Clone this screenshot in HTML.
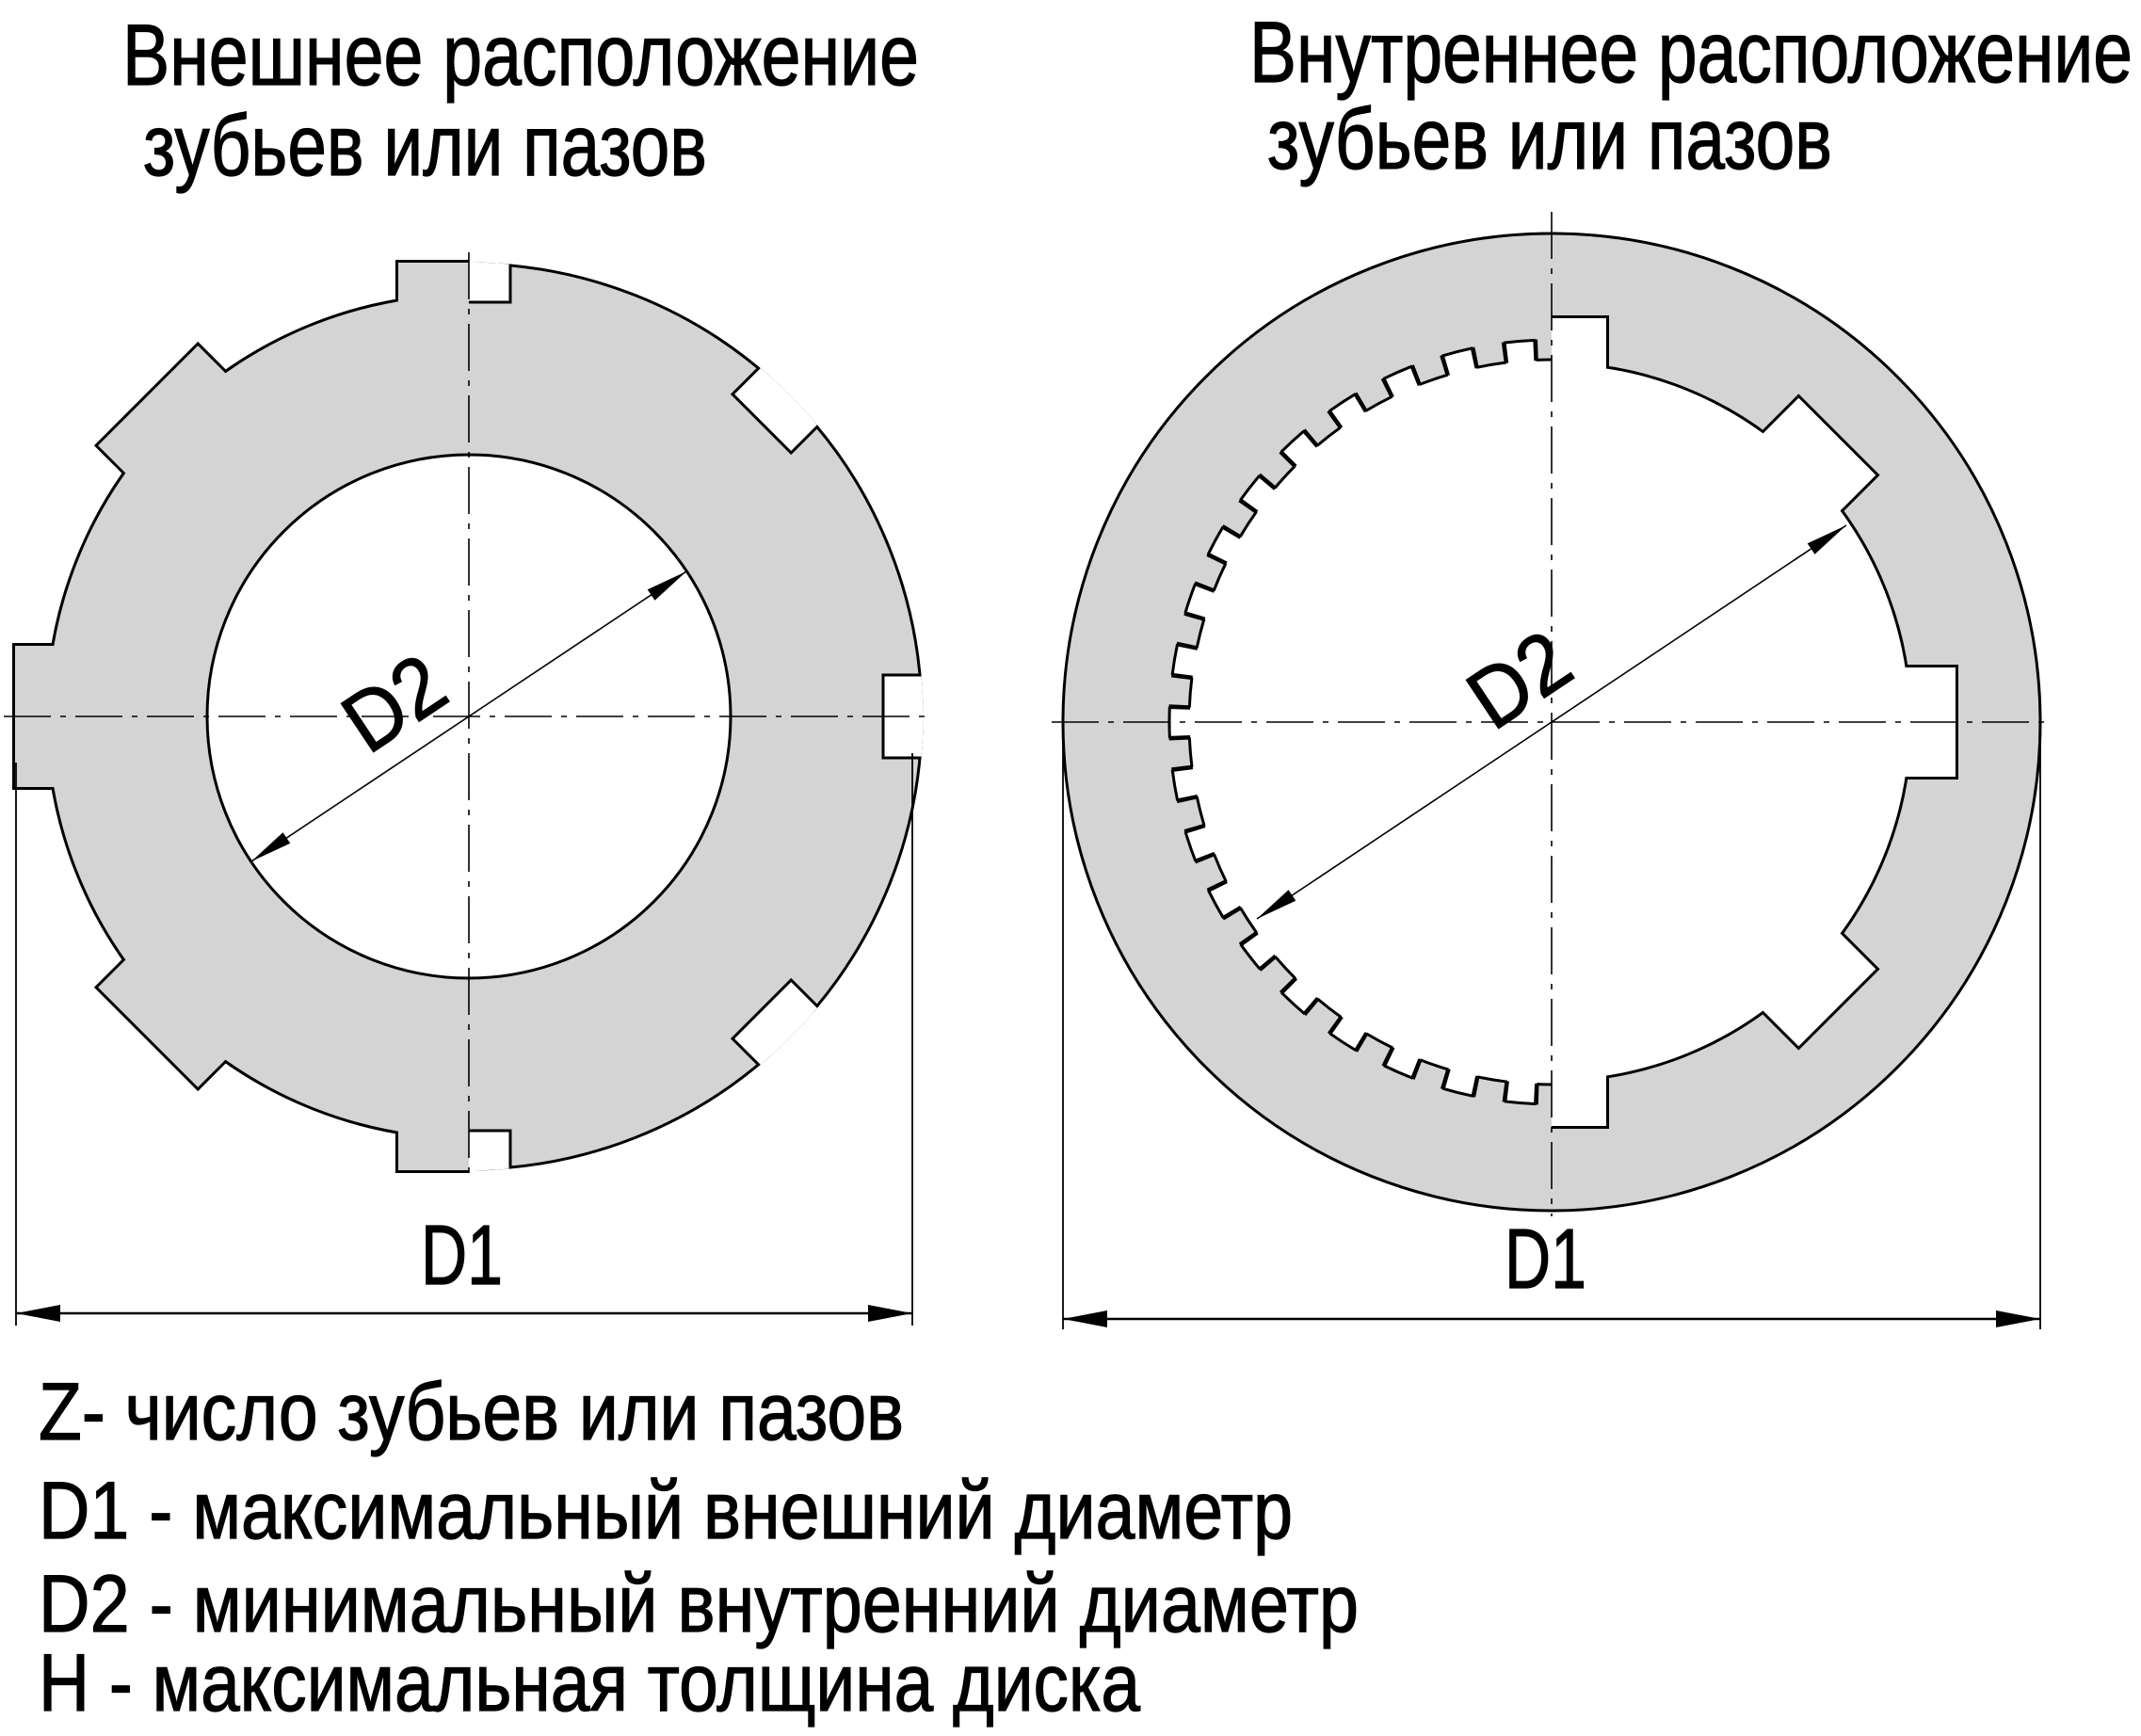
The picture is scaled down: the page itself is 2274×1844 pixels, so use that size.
<!DOCTYPE html>
<html><head><meta charset="utf-8"><style>html,body{margin:0;padding:0;background:#fff}svg{display:block}</style></head>
<body>
<svg xmlns="http://www.w3.org/2000/svg" width="2274" height="1844" viewBox="0 0 2274 1844">
<defs>
<clipPath id="cl"><rect x="-700" y="-700" width="700" height="1400"/></clipPath>
<clipPath id="cr"><rect x="0" y="-700" width="700" height="1400"/></clipPath>
<clipPath id="cc"><circle r="482.5"/></clipPath>
</defs>
<g font-family="Liberation Sans, Arial, sans-serif" fill="#000" stroke="#000" stroke-width="1.2">
<text x="130" y="90" font-size="92" textLength="846" lengthAdjust="spacingAndGlyphs">Внешнее расположение</text>
<text x="152" y="186" font-size="92" textLength="599" lengthAdjust="spacingAndGlyphs">зубьев или пазов</text>
<text x="1327" y="87" font-size="92" textLength="938" lengthAdjust="spacingAndGlyphs">Внутреннее расположение</text>
<text x="1346" y="179" font-size="92" textLength="600" lengthAdjust="spacingAndGlyphs">зубьев или пазов</text>
<text x="41" y="1529" font-size="86" textLength="919" lengthAdjust="spacingAndGlyphs">Z- число зубьев или пазов</text>
<text x="41" y="1634" font-size="86" textLength="1332" lengthAdjust="spacingAndGlyphs">D1 - максимальный внешний диаметр</text>
<text x="41" y="1733" font-size="86" textLength="1402" lengthAdjust="spacingAndGlyphs">D2 - минимальный внутренний диаметр</text>
<text x="41" y="1817" font-size="86" textLength="1170" lengthAdjust="spacingAndGlyphs">H - максимальная толщина диска</text>
<text x="447" y="1364" font-size="90" textLength="87" lengthAdjust="spacingAndGlyphs">D1</text>
<text x="1598" y="1368" font-size="90" textLength="87" lengthAdjust="spacingAndGlyphs">D1</text>
</g>

<!-- LEFT DISK -->
<g transform="translate(498,761)">
  <g clip-path="url(#cl)">
    <g fill="none" stroke="#000" stroke-width="6">
      <circle r="447"/>
      <rect x="-75" y="-482" width="150" height="100"/>
      <rect x="-75" y="-482" width="150" height="100" transform="rotate(-45)"/>
      <rect x="-75" y="-482" width="150" height="100" transform="rotate(-90)"/>
      <rect x="-75" y="-482" width="150" height="100" transform="rotate(-135)"/>
      <rect x="-75" y="-482" width="150" height="100" transform="rotate(180)"/>
    </g>
    <g fill="#d4d4d4">
      <circle r="447"/>
      <rect x="-75" y="-482" width="150" height="100"/>
      <rect x="-75" y="-482" width="150" height="100" transform="rotate(-45)"/>
      <rect x="-75" y="-482" width="150" height="100" transform="rotate(-90)"/>
      <rect x="-75" y="-482" width="150" height="100" transform="rotate(-135)"/>
      <rect x="-75" y="-482" width="150" height="100" transform="rotate(180)"/>
    </g>
  </g>
  <g clip-path="url(#cr)">
    <circle r="481" fill="#d4d4d4" stroke="#000" stroke-width="3"/>
    <g clip-path="url(#cc)" fill="#fff" stroke="#000" stroke-width="3">
      <rect x="-44" y="-530" width="88" height="90"/>
      <rect x="-44" y="-530" width="88" height="90" transform="rotate(45)"/>
      <rect x="-44" y="-530" width="88" height="90" transform="rotate(90)"/>
      <rect x="-44" y="-530" width="88" height="90" transform="rotate(135)"/>
      <rect x="-44" y="-530" width="88" height="90" transform="rotate(180)"/>
    </g>
  </g>
  <circle r="278" fill="#fff" stroke="#000" stroke-width="3"/>
</g>

<!-- RIGHT DISK -->
<g transform="translate(1648,767)">
  <circle r="519" fill="#d4d4d4" stroke="#000" stroke-width="3"/>
  <g clip-path="url(#cr)">
    <g fill="none" stroke="#000" stroke-width="6">
      <circle r="380"/>
      <rect x="-58" y="-429" width="116" height="100"/>
      <rect x="-58" y="-429" width="116" height="100" transform="rotate(45)"/>
      <rect x="-58" y="-429" width="116" height="100" transform="rotate(90)"/>
      <rect x="-58" y="-429" width="116" height="100" transform="rotate(135)"/>
      <rect x="-58" y="-429" width="116" height="100" transform="rotate(180)"/>
    </g>
    <g fill="#fff">
      <circle r="380"/>
      <rect x="-58" y="-429" width="116" height="100"/>
      <rect x="-58" y="-429" width="116" height="100" transform="rotate(45)"/>
      <rect x="-58" y="-429" width="116" height="100" transform="rotate(90)"/>
      <rect x="-58" y="-429" width="116" height="100" transform="rotate(135)"/>
      <rect x="-58" y="-429" width="116" height="100" transform="rotate(180)"/>
    </g>
  </g>
  <g clip-path="url(#cl)">
    <circle r="406" fill="#fff"/>
    <circle r="395.5" fill="none" stroke="#d4d4d4" stroke-width="21.5" pathLength="38" stroke-dasharray="0.5 0.5" stroke-dashoffset="-0.25"/>
    <circle r="385" fill="none" stroke="#000" stroke-width="3" pathLength="38" stroke-dasharray="0.5 0.5" stroke-dashoffset="-0.25"/>
    <circle r="406" fill="none" stroke="#000" stroke-width="3" pathLength="38" stroke-dasharray="0.5 0.5" stroke-dashoffset="0.25"/>
    <circle r="395.5" fill="none" stroke="#000" stroke-width="22.5" pathLength="38" stroke-dasharray="0.07 0.43" stroke-dashoffset="-0.215"/>
  </g>
</g>

<!-- centerlines -->
<g stroke="#000" stroke-width="1.6" stroke-dasharray="50 10 6 10" fill="none">
  <line x1="4" y1="761" x2="986" y2="761"/>
  <line x1="498" y1="268" x2="498" y2="1250"/>
  <line x1="1117" y1="767" x2="2180" y2="767"/>
  <line x1="1648" y1="225" x2="1648" y2="1292"/>
</g>

<!-- extension + dimension lines -->
<g stroke="#000" stroke-width="1.8" fill="none">
  <line x1="17" y1="810" x2="17" y2="1408"/>
  <line x1="969" y1="800" x2="969" y2="1408"/>
  <line x1="1129" y1="775" x2="1129" y2="1412"/>
  <line x1="2167" y1="775" x2="2167" y2="1412"/>
  <line x1="17" y1="1395" x2="969" y2="1395" stroke-width="2.5"/>
  <line x1="1129" y1="1401" x2="2167" y2="1401" stroke-width="2.5"/>
  <line x1="267" y1="915" x2="729" y2="607" stroke-width="1.6"/>
  <line x1="1335" y1="976" x2="1961" y2="558" stroke-width="1.6"/>
</g>
<g fill="#000">
  <polygon points="17,1395 64,1386 64,1404"/>
  <polygon points="969,1395 922,1386 922,1404"/>
  <polygon points="1129,1401 1176,1392 1176,1410"/>
  <polygon points="2167,1401 2120,1392 2120,1410"/>
  <polygon points="729,607 695.5,637.8 687.7,626.2"/>
  <polygon points="267,915 308.3,895.8 300.5,884.2"/>
  <polygon points="1961,558 1927.5,588.8 1919.7,577.2"/>
  <polygon points="1335,976 1376.3,956.8 1368.5,945.2"/>
</g>
<g font-family="Liberation Sans, Arial, sans-serif" fill="#000" stroke="#000" stroke-width="1.2" font-size="90" text-anchor="middle">
  <text transform="translate(418,746) rotate(-33.7)" y="32" textLength="108" lengthAdjust="spacingAndGlyphs">D2</text>
  <text transform="translate(1613,721) rotate(-33.7)" y="32" textLength="108" lengthAdjust="spacingAndGlyphs">D2</text>
</g>
</svg>
</body></html>
